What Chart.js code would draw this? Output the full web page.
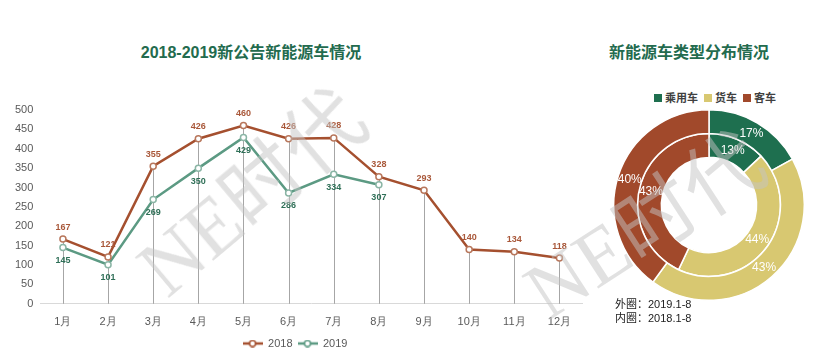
<!DOCTYPE html>
<html>
<head>
<meta charset="utf-8">
<script src="https://cdn.jsdelivr.net/npm/chart.js@4.4.0/dist/chart.umd.min.js"></script>
<style>
  body { margin: 0; background: #fff; width: 822px; height: 362px; overflow: hidden; position: relative;
         font-family: "Liberation Sans", "Noto Sans CJK SC", sans-serif; }
  .title { position: absolute; top: 39px; transform: translateX(-50%); white-space: nowrap;
           font-weight: bold; font-size: 16px; color: #236b4e; }
  .mark { position: absolute; white-space: nowrap; color: rgba(196, 196, 196, 0.5); font-size: 80px; line-height: 1;
          font-family: "Liberation Serif", "Noto Sans CJK SC", serif; z-index: 5; pointer-events: none; }
  .box { position: absolute; z-index: 1; }
  #typeLegend { position: absolute; top: 89px; left: 712px; transform: translateX(-50%); white-space: nowrap;
                font-size: 11px; font-weight: bold; color: #404040; z-index: 1; }
  #typeLegend span.sq { display: inline-block; width: 8px; height: 8px; margin: 0 3px 0 6px; }
  .note { position: absolute; left: 615px; font-size: 11px; color: #222; z-index: 1; }
</style>
</head>
<body>
<div class="mark" style="left:252px; top:193px; transform: translate(-50%, -50%) rotate(-40deg);">NE时代</div>
<div class="mark" style="left:645px; top:226px; transform: translate(-50%, -50%) rotate(-33deg);">NE时代</div>

<div class="title" style="left:251px;">2018-2019新公告新能源车情况</div>
<div class="title" style="left:689px;">新能源车类型分布情况</div>

<div class="box" style="left:0; top:0; width:600px; height:362px;"><canvas id="lineChart"></canvas></div>
<div class="box" style="left:609px; top:105px; width:200px; height:200px;"><canvas id="pieChart"></canvas></div>

<div id="typeLegend"></div>
<div class="note" style="top:295px;">外圈：2019.1-8</div>
<div class="note" style="top:309px;">内圈：2018.1-8</div>

<script>
const months = ['1月', '2月', '3月', '4月', '5月', '6月', '7月', '8月', '9月', '10月', '11月', '12月'];
const sales2018 = [167, 121, 355, 426, 460, 426, 428, 328, 293, 140, 134, 118];
const sales2019 = [145, 101, 269, 350, 429, 286, 334, 307, null, null, null, null];

const vehicleTypes = ['乘用车', '货车', '客车'];
const share2019 = [17, 43, 40];   // outer ring
const share2018 = [13, 44, 43];   // inner ring

const typeColors = ['#1e6f4f', '#d8c871', '#a1492b'];

// legend marker: short line with hollow circle
function lineMarker(color) {
  const c = document.createElement('canvas');
  c.width = 20; c.height = 8;
  const g = c.getContext('2d');
  g.strokeStyle = color; g.lineWidth = 2.5;
  g.beginPath(); g.moveTo(0, 4); g.lineTo(20, 4); g.stroke();
  g.fillStyle = '#fff'; g.lineWidth = 1.5;
  g.beginPath(); g.arc(10, 4, 3, 0, Math.PI * 2); g.fill(); g.stroke();
  return c;
}

const dropLines = {
  id: 'dropLines',
  beforeDatasetsDraw(chart) {
    const ctx = chart.ctx;
    const bottom = chart.chartArea.bottom;
    ctx.save();
    ctx.strokeStyle = '#a6a6a6';
    ctx.lineWidth = 1;
    chart.getDatasetMeta(0).data.forEach(pt => {
      ctx.beginPath();
      ctx.moveTo(Math.round(pt.x) + 0.5, pt.y);
      ctx.lineTo(Math.round(pt.x) + 0.5, bottom);
      ctx.stroke();
    });
    ctx.restore();
  }
};

const valueLabels = {
  id: 'valueLabels',
  afterDatasetsDraw(chart) {
    const ctx = chart.ctx;
    ctx.save();
    ctx.font = 'bold 9px "Liberation Sans", Arial, sans-serif';
    ctx.textAlign = 'center';
    ctx.textBaseline = 'middle';
    chart.data.datasets.forEach((ds, i) => {
      chart.getDatasetMeta(i).data.forEach((pt, j) => {
        const v = ds.data[j];
        if (v == null) return;
        ctx.fillStyle = ds.labelColor;
        ctx.fillText(v, pt.x, pt.y + (i === 0 ? -12 : 13));
      });
    });
    ctx.restore();
  }
};

new Chart(document.getElementById('lineChart'), {
  type: 'line',
  data: {
    labels: months,
    datasets: [
      {
        label: '2018',
        data: sales2018,
        borderColor: '#a5502f',
        labelColor: '#a9583a',
        borderWidth: 2.5,
        pointRadius: 3,
        pointBorderWidth: 1.5,
        pointBackgroundColor: '#fff',
        pointBorderColor: '#b8775c',
        tension: 0
      },
      {
        label: '2019',
        data: sales2019,
        borderColor: '#5c9a83',
        labelColor: '#2f6f57',
        borderWidth: 2.5,
        pointRadius: 3,
        pointBorderWidth: 1.5,
        pointBackgroundColor: '#fff',
        pointBorderColor: '#8ab5a5',
        tension: 0
      }
    ]
  },
  options: {
    responsive: true,
    maintainAspectRatio: false,
    animation: false,
    layout: { padding: { top: 110, left: 8, right: 18, bottom: 3 } },
    plugins: {
      tooltip: { enabled: false },
      legend: {
        position: 'bottom',
        labels: {
          usePointStyle: true,
          pointStyleWidth: 20,
          padding: 5,
          color: '#595959',
          font: { size: 11, family: '"Liberation Sans", Arial, sans-serif' },
          generateLabels(chart) {
            return chart.data.datasets.map((ds, i) => ({
              text: ds.label,
              pointStyle: lineMarker(ds.borderColor),
              fillStyle: ds.borderColor,
              strokeStyle: ds.borderColor,
              lineWidth: 0,
              fontColor: '#595959',
              datasetIndex: i
            }));
          }
        }
      }
    },
    scales: {
      x: {
        offset: true,
        grid: { display: false },
        border: { color: '#d9d9d9' },
        ticks: { color: '#595959', font: { size: 11 }, padding: 4 }
      },
      y: {
        min: 0,
        max: 500,
        grid: { display: false, drawTicks: false },
        border: { display: false },
        ticks: { stepSize: 50, color: '#595959', font: { size: 11, family: '"Liberation Sans", Arial, sans-serif' }, padding: 7 }
      }
    }
  },
  plugins: [dropLines, valueLabels]
});

const pctLabels = {
  id: 'pctLabels',
  afterDatasetsDraw(chart) {
    const ctx = chart.ctx;
    ctx.save();
    ctx.font = '12px "Liberation Sans", Arial, sans-serif';
    ctx.fillStyle = '#fff';
    ctx.textAlign = 'center';
    ctx.textBaseline = 'middle';
    chart.data.datasets.forEach((ds, i) => {
      chart.getDatasetMeta(i).data.forEach((arc, j) => {
        const p = arc.tooltipPosition();
        ctx.fillText(ds.data[j] + '%', p.x, p.y);
      });
    });
    ctx.restore();
  }
};

new Chart(document.getElementById('pieChart'), {
  type: 'doughnut',
  data: {
    labels: vehicleTypes,
    datasets: [
      { label: '2019.1-8', data: share2019, backgroundColor: typeColors, borderColor: '#fff', borderWidth: 1.5 },
      { label: '2018.1-8', data: share2018, backgroundColor: typeColors, borderColor: '#fff', borderWidth: 1.5 }
    ]
  },
  options: {
    responsive: true,
    maintainAspectRatio: false,
    animation: false,
    cutout: '50%',
    layout: { padding: 4 },
    plugins: { legend: { display: false }, tooltip: { enabled: false } }
  },
  plugins: [pctLabels]
});

document.getElementById('typeLegend').innerHTML = vehicleTypes
  .map((t, i) => '<span class="sq" style="background:' + typeColors[i] + '"></span>' + t)
  .join('');
</script>
</body>
</html>
